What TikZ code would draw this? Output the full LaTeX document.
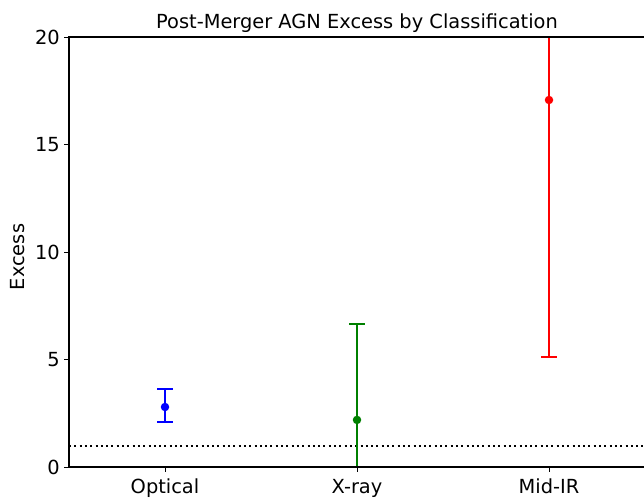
\documentclass[tikz,border=0pt]{standalone}
\usepackage{fontspec}
\setmainfont{DejaVu Sans}
\begin{document}
\begin{tikzpicture}[x=1pt,y=1pt,
  axisline/.style={line width=1.1pt,black},
  tickmark/.style={line width=0.9pt,black},
  ticklabel/.style={font=\fontsize{19.4}{21}\selectfont,inner sep=0pt},
  errbar/.style={line width=2pt},
  pointmark/.style={circle,fill,inner sep=0pt,minimum size=8.5pt}]
\useasboundingbox (0,0) rectangle (644,498);
\fill[white] (0,0) rectangle (644,498);
% axes frame (left, bottom, top); right edge lies at the border
\coordinate (ll) at (69,31);
\coordinate (ul) at (69,461);
\coordinate (lr) at (645,31);
\coordinate (ur) at (645,461);
% reference line at excess = 1
\coordinate (refL) at (69,52.5);
\coordinate (refR) at (645,52.5);
\draw[line width=2pt,dash pattern=on 2pt off 3.3pt] (refL) -- (refR);
% y ticks
\foreach \v/\t in {0/0,5/5,10/10,15/15,20/20}{
  \coordinate (yt\v) at (69,31+21.5*\v);
  \draw[tickmark] (yt\v) -- ++(-5,0);
  \node[ticklabel,anchor=east] (yl\v) at ([xshift=-9]yt\v) {\t};
}
% x ticks
\foreach \i/\t in {0/Optical,1/X-ray,2/Mid-IR}{
  \coordinate (xt\i) at (165+192*\i,31);
  \draw[tickmark] (xt\i) -- ++(0,-5);
  \node[ticklabel,anchor=base] (xl\i) at (165+192*\i,5) {\t};
}
% error bars
\begin{scope}[xshift=165pt,yshift=31pt,x=192pt,y=21.5pt]
  % Optical
  \coordinate (oLo) at (0,2.09); \coordinate (oHi) at (0,3.63);
  \draw[errbar,blue] (oLo) -- (oHi);
  \draw[errbar,blue] ([xshift=-8pt]oLo) -- ([xshift=8pt]oLo);
  \draw[errbar,blue] ([xshift=-8pt]oHi) -- ([xshift=8pt]oHi);
  \node[pointmark,fill=blue] (opt) at (0,2.79) {};
  % X-ray
  \coordinate (xLo) at (1,0); \coordinate (xHi) at (1,6.65);
  \draw[errbar,green!50!black] (xLo) -- (xHi);
  \draw[errbar,green!50!black] ([xshift=-8pt]xLo) -- ([xshift=8pt]xLo);
  \draw[errbar,green!50!black] ([xshift=-8pt]xHi) -- ([xshift=8pt]xHi);
  \node[pointmark,fill=green!50!black] (xray) at (1,2.19) {};
  % Mid-IR (upper end runs past the frame)
  \coordinate (mLo) at (2,5.12); \coordinate (mHi) at (2,20);
  \draw[errbar,red] (mLo) -- (mHi);
  \draw[errbar,red] ([xshift=-8pt]mLo) -- ([xshift=8pt]mLo);
  \node[pointmark,fill=red] (mir) at (2,17.07) {};
\end{scope}
\draw[axisline] (lr) -- (ll) -- (ul) -- (ur);
% labels
\node[font=\fontsize{19.4}{21}\selectfont,inner sep=0pt,anchor=base] (title) at (357,469) {Post-Merger AGN Excess by Classification};
\node[font=\fontsize{19.4}{21}\selectfont,inner sep=0pt,rotate=90,anchor=base] (ylab) at (25,241) {Excess};
\end{tikzpicture}
\end{document}
